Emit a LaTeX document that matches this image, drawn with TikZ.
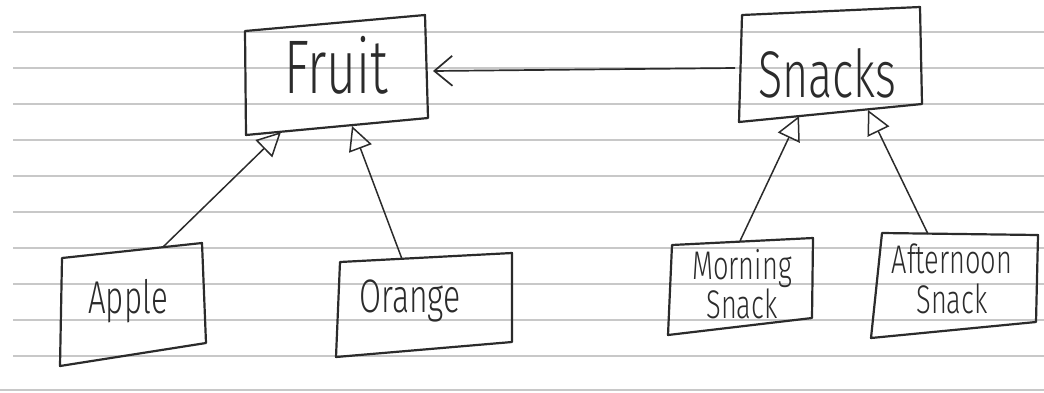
\documentclass[tikz,border=0pt]{standalone}
\usepackage{fontspec}
\newfontfamily\hand[FakeStretch=0.68]{Fira Sans Light}
\usetikzlibrary{arrows.meta}
\definecolor{ink}{HTML}{2B2B2B}
\definecolor{rulegrey}{HTML}{C8C8C8}
\begin{document}
\begin{tikzpicture}[x=1pt,y=-1pt,
  box/.style={draw=ink, line width=2.2pt, line join=round},
  lbl/.style={text=ink, inner sep=0pt, font=\hand, align=center},
  inh/.style={draw=ink, line width=1.5pt, -{Triangle[open,length=24pt,width=24pt]}},
  assoc/.style={draw=ink, line width=1.7pt, -{Straight Barb[length=18pt,width=30pt]}},
  paper/.style={draw=rulegrey, line width=1.3pt}]
\useasboundingbox (0,0) rectangle (1044,392);
% ruled paper
\foreach \y in {32,68,...,356} \draw[paper] (13,\y) -- (1044,\y);
\draw[paper] (0,390) -- (1044,390);
% labels
\node[lbl, anchor=base, font=\hand\fontsize{76}{80}\selectfont] (fruit) at (336,93) {Fruit};
\node[lbl, anchor=base, font=\hand\fontsize{66}{70}\selectfont] (snacks) at (827,97) {Snacks};
\node[lbl, anchor=base, font=\hand\fontsize{46}{50}\selectfont] (apple) at (128,313) {Apple};
\node[lbl, anchor=base, font=\hand\fontsize{47}{50}\selectfont] (orange) at (410,312) {Orange};
\node[lbl, font=\hand\fontsize{40}{39}\selectfont] (morning) at (742,284) {Morning\\Snack};
\node[lbl, font=\hand\fontsize{40}{40}\selectfont] (afternoon) at (952,279) {Afternoon\\Snack};
% box outlines
\draw[box] (245,31) -- (425,15) -- (428,118) -- (246,135) -- cycle;
\draw[box] (742,15) -- (920,7) -- (922,104) -- (739,122) -- cycle;
\draw[box] (62,258) -- (202,243) -- (206,343) -- (60,366) -- cycle;
\draw[box] (340,262) -- (512,253) -- (512,342) -- (336,357) -- cycle;
\draw[box] (672,245) -- (813,238) -- (812,318) -- (668,335) -- cycle;
\draw[box] (882,233) -- (1038,235) -- (1036,322) -- (871,338) -- cycle;
% connector end points on box edges
\coordinate (fruit-a) at (281,132);
\coordinate (fruit-o) at (352,126);
\coordinate (fruit-e) at (433,71);
\coordinate (snacks-w) at (735,68);
\coordinate (snacks-m) at (799,116);
\coordinate (snacks-a) at (868,110);
\coordinate (apple-t) at (163,247);
\coordinate (orange-t) at (402,259);
\coordinate (morning-t) at (740,241);
\coordinate (afternoon-t) at (928,234);
% connectors
\draw[assoc] (snacks-w) -- (fruit-e);
\draw[inh] (apple-t) -- (fruit-a);
\draw[inh] (orange-t) -- (fruit-o);
\draw[inh] (morning-t) -- (snacks-m);
\draw[inh] (afternoon-t) -- (snacks-a);
\end{tikzpicture}
\end{document}
